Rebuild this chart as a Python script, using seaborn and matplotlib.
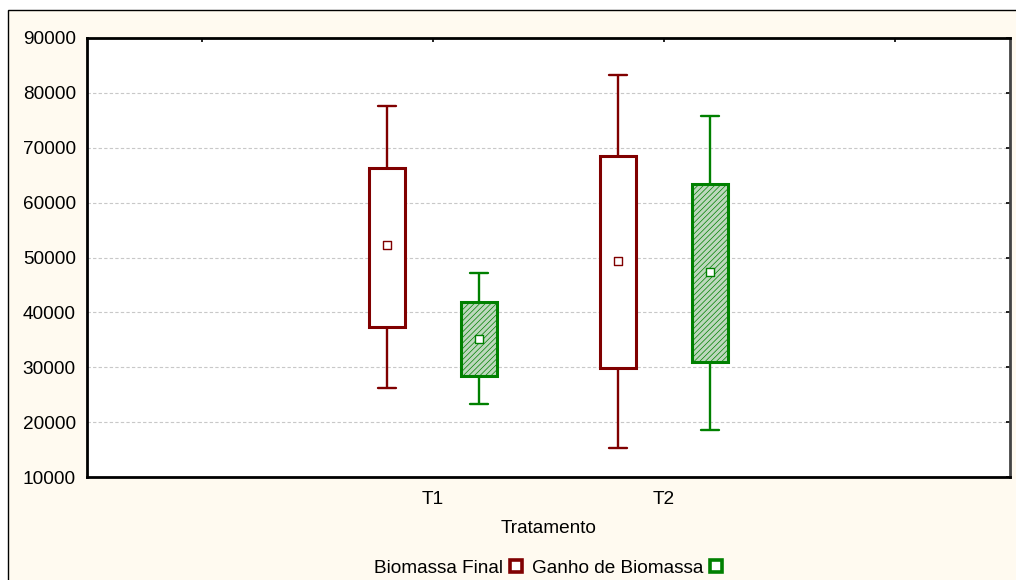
import pandas as pd
import matplotlib
matplotlib.use("Agg")
import matplotlib.pyplot as plt
from matplotlib.lines import Line2D
from matplotlib.patches import Rectangle
import seaborn as sns

# values
tratamentos = ["T1", "T2"]
series = ["Biomassa Final", "Ganho de Biomassa"]
media = {"Biomassa Final": [52200, 49300], "Ganho de Biomassa": [35200, 47350]}
caixa_baixo = {"Biomassa Final": [37300, 29800], "Ganho de Biomassa": [28400, 30900]}
caixa_alto = {"Biomassa Final": [66400, 68500], "Ganho de Biomassa": [41800, 63450]}
bigode_baixo = {"Biomassa Final": [26300, 15200], "Ganho de Biomassa": [23250, 18550]}
bigode_alto = {"Biomassa Final": [77600, 83250], "Ganho de Biomassa": [47100, 75800]}

cores = {"Biomassa Final": "#800000", "Ganho de Biomassa": "#008000"}
preench = {"Biomassa Final": "white", "Ganho de Biomassa": "#b8dcb8"}

ordem = ["", "T1", "T2", " "]

# long table: 5 values per box so quartiles/min/max land on the read values
linhas = []
for s in series:
    for i, t in enumerate(tratamentos):
        for v in [bigode_baixo[s][i], caixa_baixo[s][i], media[s][i],
                  caixa_alto[s][i], bigode_alto[s][i]]:
            linhas.append({"Tratamento": t, "serie": s, "valor": v})
df = pd.DataFrame(linhas)
medias = pd.DataFrame([{"Tratamento": t, "serie": s, "valor": media[s][i]}
                       for s in series for i, t in enumerate(tratamentos)])

sns.set_style("white")
plt.rcParams["font.family"] = ["Liberation Sans", "DejaVu Sans"]
plt.rcParams["hatch.linewidth"] = 0.5
for k in ["text.color", "axes.labelcolor", "xtick.color", "ytick.color"]:
    plt.rcParams[k] = "black"
fs = 13.7

fig = plt.figure(figsize=(10.16, 5.8), dpi=100)
fig.patch.set_facecolor("white")
fig.patches.append(Rectangle((8 / 1016, -0.01), 1.0, 1 - 10 / 580 + 0.01,
                             transform=fig.transFigure, facecolor="#fffaf0",
                             edgecolor="black", linewidth=1.0, zorder=-10))
ax = fig.add_axes([87 / 1016, 1 - 477 / 580, 923 / 1016, 439 / 580])
ax.set_facecolor("white")

for s in series:
    n0 = len(ax.patches)
    sns.boxplot(data=df[df.serie == s], x="Tratamento", y="valor", hue="serie",
                order=ordem, hue_order=series, dodge=True, width=0.8, gap=0.61,
                whis=(0, 100), palette=preench, linecolor=cores[s], linewidth=2.2,
                medianprops={"visible": False},
                whiskerprops={"linewidth": 1.7}, capprops={"linewidth": 1.7},
                legend=False, ax=ax)
    if s == "Ganho de Biomassa":
        for p in ax.patches[n0:]:
            p.set_hatch("//////")
    sns.stripplot(data=medias[medias.serie == s], x="Tratamento", y="valor",
                  hue="serie", order=ordem, hue_order=series, dodge=True,
                  jitter=False, marker="s", size=6, palette={k: "white" for k in series},
                  edgecolor=cores[s], linewidth=1.0, legend=False, ax=ax, zorder=5)

ax.set_xlim(-0.5, 3.5)
ax.set_ylim(10000, 90000)
ax.set_yticks(range(10000, 90001, 10000))
ax.set_xticks(range(4))
ax.set_xticklabels(["", "T1", "T2", ""])
ax.yaxis.grid(True, linestyle=(0, (3, 2)), color="#c8c8c8", linewidth=0.8)
ax.xaxis.grid(False)
ax.tick_params(axis="both", direction="in", length=3, width=1.2, color="black",
               labelsize=fs, top=True, right=True, pad=8)
ax.tick_params(axis="x", pad=10)
for sp in ax.spines.values():
    sp.set_color("black")
    sp.set_linewidth(2)
ax.spines["right"].set_color("#444444")
ax.set_xlabel("Tratamento", fontsize=fs, labelpad=9)
ax.set_ylabel("")

handles = [Line2D([], [], linestyle="none", marker="s", markersize=9,
                  markerfacecolor="white", markeredgecolor=cores[s],
                  markeredgewidth=2.6) for s in series]
ax.legend(handles, series, loc="center", bbox_to_anchor=(0.5, -0.207), ncol=2,
          frameon=False, markerfirst=False, fontsize=fs, handletextpad=0.35,
          columnspacing=0.45, handlelength=0.7)

fig.savefig("out.png", dpi=100)
